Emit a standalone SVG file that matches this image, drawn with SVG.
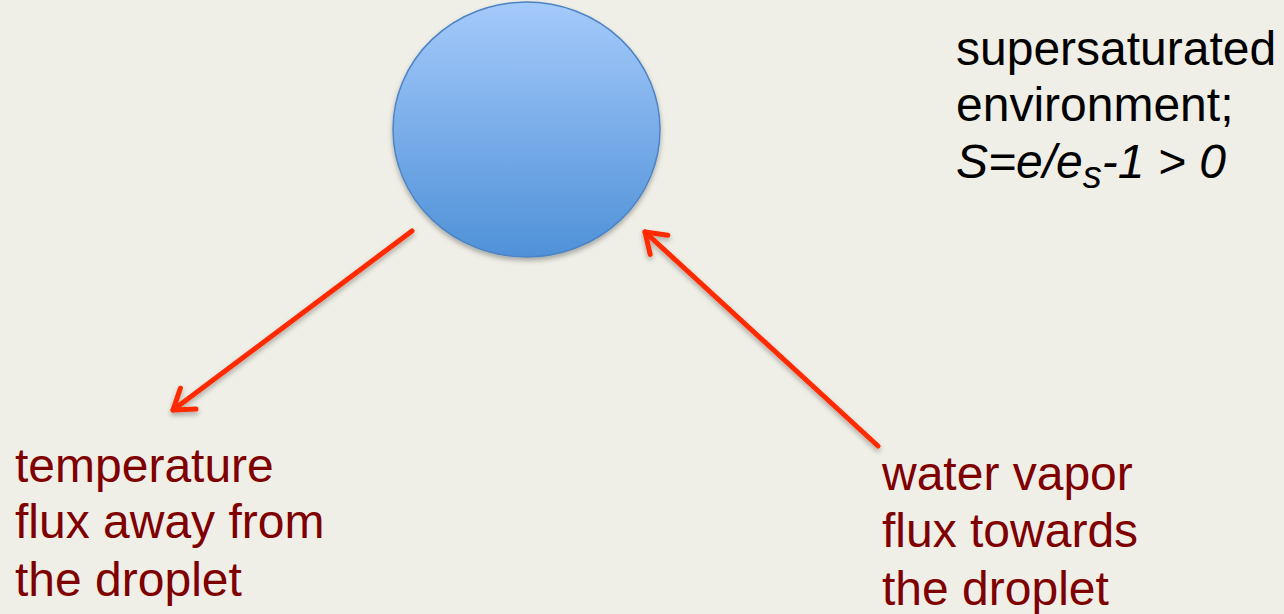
<svg xmlns="http://www.w3.org/2000/svg" width="1284" height="614" viewBox="0 0 1284 614">
<defs>
<style>
.lbl{font-family:"Liberation Sans",Arial,sans-serif;font-size:48px;fill:#7F0000}
.env{font-family:"Liberation Sans",Arial,sans-serif;font-size:48px;fill:#000}
.arrow{stroke:#FF2A00;stroke-width:5;fill:none;stroke-linecap:round;marker-end:url(#head)}
</style>
<linearGradient id="drop" x1="0" y1="0" x2="0" y2="1">
<stop offset="0" stop-color="#A5CAFB"/>
<stop offset="1" stop-color="#4F91D8"/>
</linearGradient>
<filter id="sh" x="-20%" y="-20%" width="140%" height="140%">
<feDropShadow dx="0" dy="3" stdDeviation="2.5" flood-color="#000" flood-opacity="0.3"/>
</filter>
<marker id="head" markerUnits="userSpaceOnUse" markerWidth="40" markerHeight="40" refX="0" refY="0" viewBox="-30 -20 40 40" orient="auto" overflow="visible">
<path d="M -19 -13 L 0 0 L -19 13" fill="none" stroke="#FF2A00" stroke-width="5" stroke-linecap="round" stroke-linejoin="round"/>
</marker>
</defs>
<rect width="1284" height="614" fill="#EFEFE7"/>
<g id="droplet">
<ellipse cx="526.5" cy="129.5" rx="133.5" ry="127.5" fill="url(#drop)" stroke="#4E84C4" stroke-width="1.5" filter="url(#sh)"/>
</g>
<g id="connectors" filter="url(#sh)">
<line class="arrow" x1="412" y1="231" x2="173" y2="410"/>
<line class="arrow" x1="878" y1="446" x2="645" y2="232"/>
</g>
<g id="environment">
<text class="env" x="956" y="65">supersaturated</text>
<text class="env" x="956" y="121">environment;</text>
<text class="env" x="956" y="178" font-style="italic">S=e/e<tspan font-size="38" dy="10">s</tspan><tspan dy="-10">-1 &gt; 0</tspan></text>
</g>
<g id="temperature-label">
<text class="lbl" x="15" y="482">temperature</text>
<text class="lbl" x="15" y="538">flux away from</text>
<text class="lbl" x="15" y="596">the droplet</text>
</g>
<g id="vapor-label">
<text class="lbl" x="882" y="490">water vapor</text>
<text class="lbl" x="882" y="547">flux towards</text>
<text class="lbl" x="882" y="605">the droplet</text>
</g>
</svg>
